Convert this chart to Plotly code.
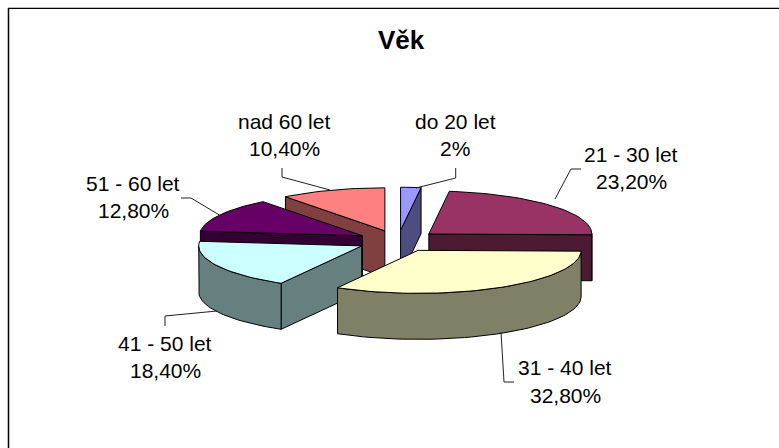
import math
import plotly.graph_objects as go

# Data
categories = ["do 20 let", "21 - 30 let", "31 - 40 let", "41 - 50 let", "51 - 60 let", "nad 60 let"]
values = [2, 23.2, 32.8, 18.4, 12.8, 10.4]
value_labels = ["2%", "23,20%", "32,80%", "18,40%", "12,80%", "10,40%"]
top_colors = ["#9999FF", "#993366", "#FFFFCC", "#CCFFFF", "#660066", "#FF8080"]
side_colors = ["#4D4D80", "#4D1A33", "#808066", "#668080", "#330033", "#804040"]

# Layout of the pie in pixels
W, H = 779, 448
CX, CY = 398, 241
RX, RY = 163, 43
EXPLODE = 0.25
DEPTH = 46
DRAW_ORDER = [0, 5, 4, 1, 3, 2]
LABEL_POS = [(455, 121), (631, 154), (565, 367.5), (165, 343), (133, 183), (284, 121)]
LINE_GAP = 27.5
LEADERS = [
    [(455.7, 168), (455.7, 178), (416, 188)],
    [(581, 169), (571, 169), (555, 199)],
    [(501, 332), (504, 382), (514, 382)],
    [(165, 326), (165, 316), (217, 311)],
    [(181, 198), (191, 198), (221, 216)],
    [(282, 168), (282, 177), (330, 190)],
]


def proj(theta_deg, r, ox, oy):
    t = math.radians(theta_deg)
    return (ox + r * RX * math.sin(t), oy - r * RY * math.cos(t))


def poly_trace(pts, color):
    return go.Scatter(
        x=[p[0] for p in pts] + [pts[0][0]],
        y=[p[1] for p in pts] + [pts[0][1]],
        mode="lines", fill="toself", fillcolor=color,
        line=dict(color="#000000", width=1), hoverinfo="skip", showlegend=False,
    )


def wall(run, color):
    down = [(x, y + DEPTH) for x, y in reversed(run)]
    return poly_trace(run + down, color)


total = sum(values)
starts = []
acc = 0.0
for v in values:
    starts.append(acc / total * 360)
    acc += v

fig = go.Figure()
for i in DRAW_ORDER:
    a0 = starts[i]
    a1 = a0 + values[i] / total * 360
    mid = math.radians((a0 + a1) / 2)
    ox = CX + EXPLODE * RX * math.sin(mid)
    oy = CY - EXPLODE * RY * math.cos(mid)
    n = max(4, int((a1 - a0) / 2))
    arc = [proj(a0 + (a1 - a0) * k / n, 1, ox, oy) for k in range(n + 1)]
    apex = (ox, oy)
    # cut faces and rim: only those facing the viewer
    if arc[0][0] < apex[0] - 0.01:
        fig.add_trace(wall([apex, arc[0]], side_colors[i]))
    run = []
    for p, q in zip(arc, arc[1:]):
        if q[0] < p[0]:
            if not run:
                run = [p]
            run.append(q)
    if run:
        fig.add_trace(wall(run, side_colors[i]))
    if arc[-1][0] > apex[0] + 0.01:
        fig.add_trace(wall([arc[-1], apex], side_colors[i]))
    fig.add_trace(poly_trace([apex] + arc, top_colors[i]))

shapes = [
    dict(type="line", x0=8, x1=W, y0=7.5, y1=7.5, line=dict(color="#BBBBBB", width=1)),
    dict(type="line", x0=8, x1=W, y0=8.5, y1=8.5, line=dict(color="#000000", width=1)),
    dict(type="line", x0=8.5, x1=8.5, y0=8, y1=H, line=dict(color="#000000", width=1.5)),
]
for pts in LEADERS:
    path = "M " + " L ".join(f"{x} {y}" for x, y in pts)
    shapes.append(dict(type="path", path=path, line=dict(color="#222222", width=1)))

FONT = "Liberation Sans, Arial, sans-serif"
annotations = [dict(x=401.5, y=40, text="<b>Věk</b>", showarrow=False, xanchor="center", yanchor="middle",
                    font=dict(family=FONT, size=26, color="#000000"))]
for cat, lab, (x, y) in zip(categories, value_labels, LABEL_POS):
    for txt, yy in ((cat, y), (lab, y + LINE_GAP)):
        annotations.append(dict(x=x, y=yy, text=txt, showarrow=False, xanchor="center", yanchor="middle",
                                font=dict(family=FONT, size=21, color="#000000")))

fig.update_layout(
    width=W, height=H, margin=dict(l=0, r=0, t=0, b=0),
    paper_bgcolor="#FFFFFF", plot_bgcolor="#FFFFFF", showlegend=False,
    xaxis=dict(range=[0, W], visible=False, fixedrange=True),
    yaxis=dict(range=[H, 0], visible=False, fixedrange=True),
    shapes=shapes, annotations=annotations,
)
fig.write_html("out.html", config={"displayModeBar": False},
               post_script="document.body.style.margin='0';document.documentElement.style.overflow='hidden';")
